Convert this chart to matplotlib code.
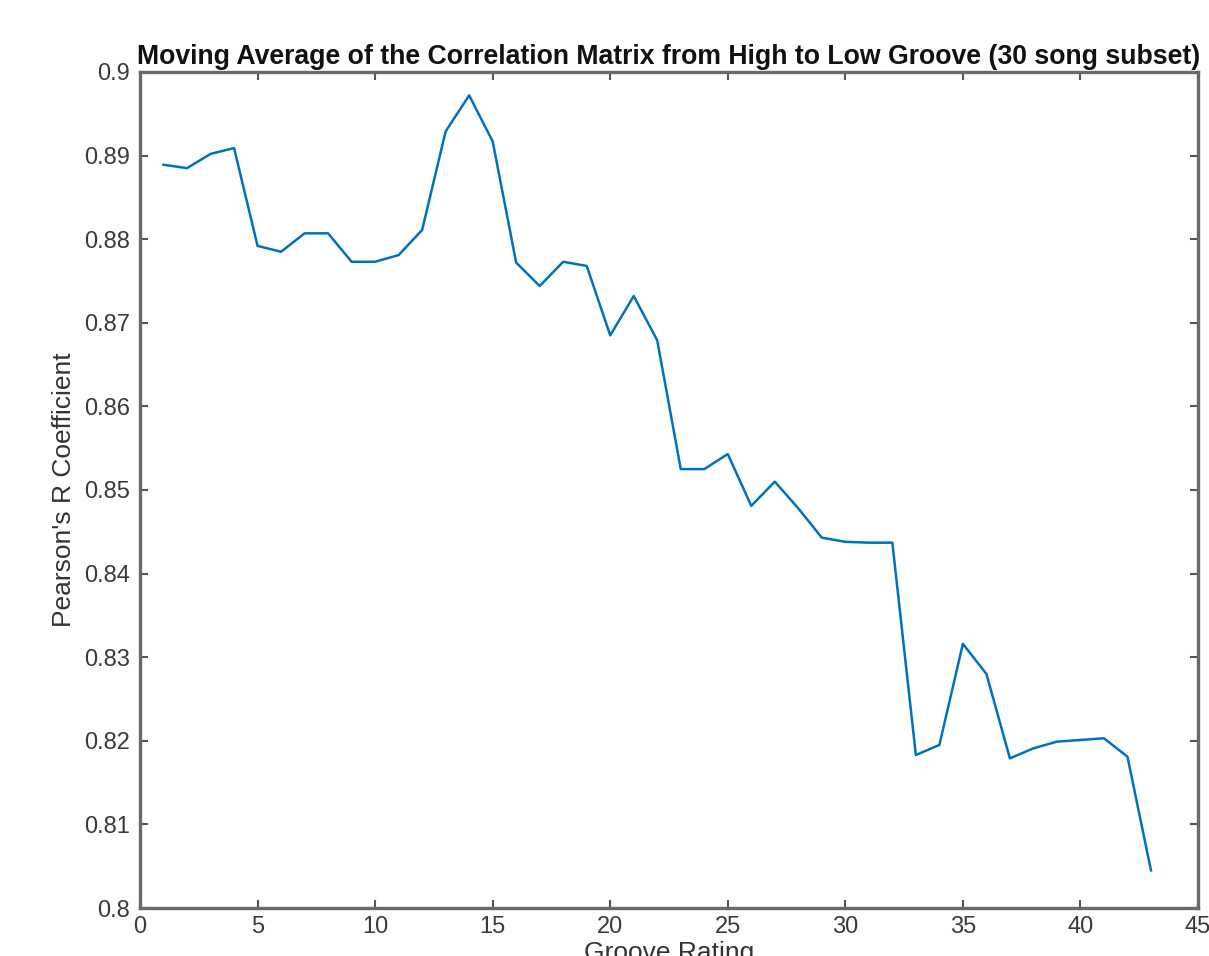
import matplotlib
matplotlib.use("Agg")
from matplotlib import pyplot as plt

# 各 Groove Rating 上的相关系数滑动平均
groove_rating = list(range(1, 44))
pearson_r = [0.8889, 0.8885, 0.8902, 0.8909, 0.8792, 0.8785, 0.8807, 0.8807, 0.8773, 0.8773,
             0.8781, 0.8811, 0.8929, 0.8972, 0.8917, 0.8772, 0.8744, 0.8773, 0.8768, 0.8685,
             0.8732, 0.8679, 0.8525, 0.8525, 0.8543, 0.8481, 0.8510, 0.8478, 0.8443, 0.8438,
             0.8437, 0.8437, 0.8183, 0.8195, 0.8316, 0.8280, 0.8179, 0.8191, 0.8199, 0.8201,
             0.8203, 0.8181, 0.8045]
y_ticks = [0.8, 0.81, 0.82, 0.83, 0.84, 0.85, 0.86, 0.87, 0.88, 0.89, 0.9]
y_tick_labels = ["0.8", "0.81", "0.82", "0.83", "0.84", "0.85", "0.86", "0.87", "0.88", "0.89", "0.9"]

plt.rcParams['font.family'] = ['Liberation Sans', 'DejaVu Sans']

fig = plt.figure(figsize=(12.09, 9.56), dpi=100)
ax = fig.add_axes([0.1158, 0.0502, 0.8751, 0.8745])

ax.plot(groove_rating, pearson_r, color='#0072BD', linewidth=1.8)

ax.set_xlim(0, 45)
ax.set_ylim(0.8, 0.9)
ax.set_xticks(range(0, 46, 5))
ax.set_yticks(y_ticks)
ax.set_yticklabels(y_tick_labels)

# 盒状坐标轴，刻度朝内
for side in ax.spines.values():
    side.set_color('#6a6a6a')
    side.set_linewidth(2.4)
ax.tick_params(direction='in', top=True, right=True, length=6, width=1.5,
               colors='#555555', labelsize=17, labelcolor='#3a3a3a')
ax.tick_params(axis='x', pad=6)
ax.tick_params(axis='y', pad=7)

ax.set_xlabel("Groove Rating", fontsize=19, color='#333333', labelpad=2)
ax.set_ylabel("Pearson's R Coefficient", fontsize=19, color='#333333', labelpad=6)
ax.set_title("Moving Average of the Correlation Matrix from High to Low Groove (30 song subset)",
             fontsize=19.2, fontweight='bold', color='#111111', pad=6)

fig.savefig("out.png", dpi=100)
